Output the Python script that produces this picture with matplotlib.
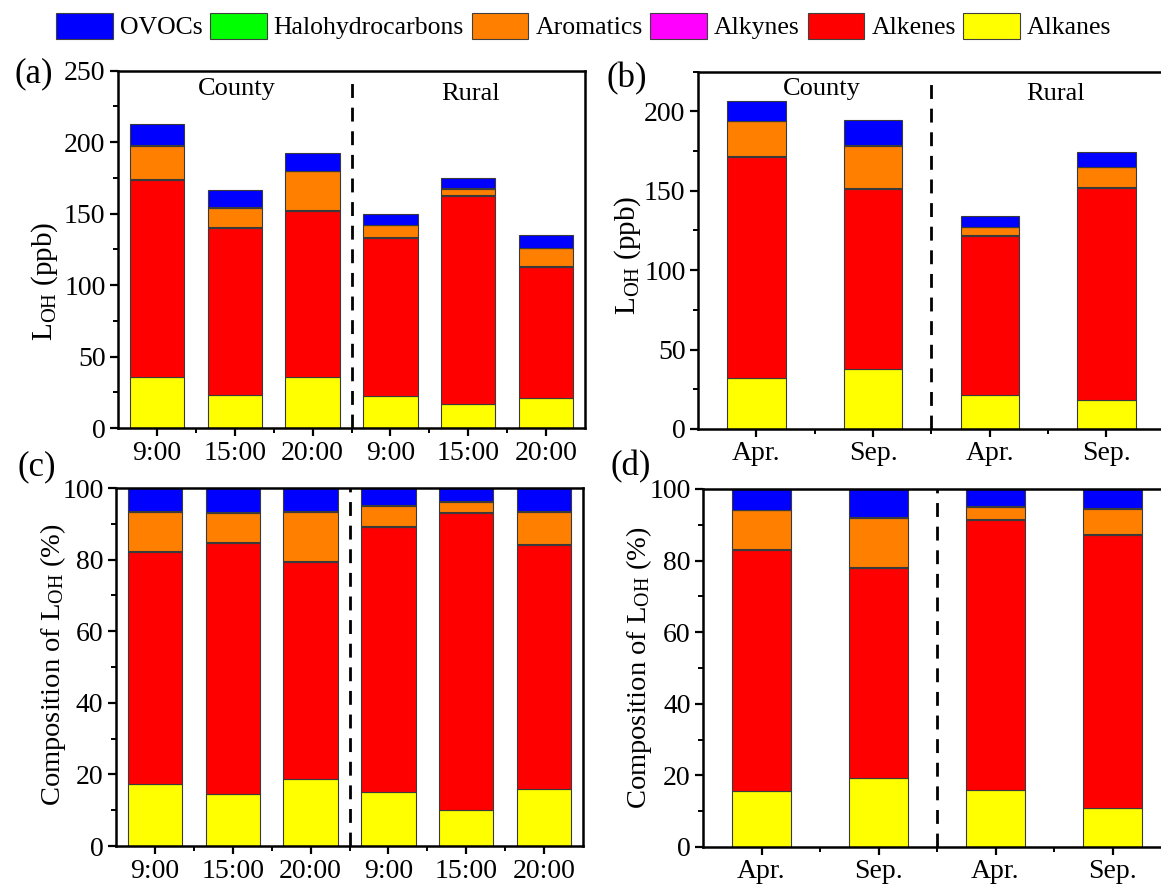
import matplotlib
matplotlib.use("Agg")
import matplotlib.pyplot as plt
from matplotlib.patches import Patch
from matplotlib.ticker import MultipleLocator, FixedLocator
import numpy as np

plt.rcParams['font.family'] = ['Liberation Serif', 'DejaVu Serif']
plt.rcParams['mathtext.fontset'] = 'custom'
plt.rcParams['mathtext.rm'] = 'Liberation Serif'
plt.rcParams['mathtext.it'] = 'Liberation Serif:italic'

# --- data ---
categories = ['Alkanes', 'Alkenes', 'Alkynes', 'Aromatics', 'Halohydrocarbons', 'OVOCs']
colors = ['#FFFF00', '#FF0000', '#FF00FF', '#FF8000', '#00FF00', '#0000FF']

hour_labels = ['9:00', '15:00', '20:00', '9:00', '15:00', '20:00']
month_labels = ['Apr.', 'Sep.', 'Apr.', 'Sep.']

# (a) L_OH by hour, ppb
a_alkanes = [35.9, 23.1, 35.4, 22.1, 16.8, 21.0]
a_alkenes = [137.8, 116.6, 116.7, 111.1, 145.3, 91.9]
a_alkynes = [0.6, 0.6, 0.6, 0.6, 0.6, 0.6]
a_aromatics = [23.1, 13.8, 26.8, 7.9, 4.7, 12.1]
a_halo = [0.3, 0.3, 0.3, 0.3, 0.3, 0.3]
a_ovocs = [14.7, 11.8, 12.7, 7.6, 6.9, 8.8]

# (b) L_OH by month, ppb
b_alkanes = [32.1, 37.5, 21.6, 18.4]
b_alkenes = [139.0, 113.7, 100.2, 133.6]
b_alkynes = [0.6, 0.6, 0.6, 0.6]
b_aromatics = [22.2, 26.6, 4.8, 12.3]
b_halo = [0.3, 0.3, 0.3, 0.3]
b_ovocs = [12.3, 16.1, 6.5, 9.3]

# (c) composition by hour, %
c_alkanes = [17.3, 14.4, 18.8, 15.2, 10.0, 15.8]
c_alkenes = [64.9, 70.1, 60.6, 74.0, 83.0, 68.3]
c_alkynes = [0.3, 0.3, 0.3, 0.3, 0.3, 0.3]
c_aromatics = [10.8, 8.3, 13.7, 5.5, 2.8, 9.0]
c_halo = [0.15, 0.15, 0.15, 0.15, 0.15, 0.15]
c_ovocs = [6.55, 6.75, 6.45, 4.85, 3.75, 6.45]

# (d) composition by month, %
d_alkanes = [15.7, 19.4, 16.0, 10.9]
d_alkenes = [67.2, 58.4, 75.3, 76.3]
d_alkynes = [0.3, 0.3, 0.3, 0.3]
d_aromatics = [10.9, 13.8, 3.5, 7.0]
d_halo = [0.15, 0.15, 0.15, 0.15]
d_ovocs = [5.75, 7.95, 4.75, 5.35]

W, H = 1161, 885
fig = plt.figure(figsize=(W / 100, H / 100), dpi=100)


def px_axes(left, right, top, bottom):
    return fig.add_axes([left / W, 1 - bottom / H, (right - left) / W, (bottom - top) / H])


def stacked(ax, series, labels, width, ylim, ymajor, yminor, split, dash_top):
    x = np.arange(1, len(labels) + 1)
    bottom = np.zeros(len(labels))
    for vals, col in zip(series, colors):
        ax.bar(x, vals, width, bottom=bottom, color=col, edgecolor='#3a3a3a', linewidth=0.8, zorder=2)
        bottom += np.array(vals)
    ax.set_xlim(0.5, len(labels) + 0.5)
    ax.set_ylim(*ylim)
    ax.set_xticks(x)
    ax.set_xticklabels(labels)
    ax.xaxis.set_minor_locator(FixedLocator(x[:-1] + 0.5))
    ax.yaxis.set_major_locator(MultipleLocator(ymajor))
    ax.yaxis.set_minor_locator(MultipleLocator(yminor))
    ax.tick_params(which='major', direction='out', length=6, width=1.6, labelsize=20, pad=3)
    ax.tick_params(which='minor', direction='out', length=3.5, width=1.4)
    for s in ax.spines.values():
        s.set_linewidth(1.8)
    ax.axvline(split, ymin=0, ymax=dash_top, color='black', linewidth=2, dashes=(5, 3.5), zorder=3)


ax_a = px_axes(118, 585, 70.7, 428)
stacked(ax_a, [a_alkanes, a_alkenes, a_alkynes, a_aromatics, a_halo, a_ovocs],
        hour_labels, 0.7, (0, 250), 50, 25, 3.5, 0.97)
ax_a.text(2.03, 237, 'County', ha='center', va='center', fontsize=19)
ax_a.text(5.03, 234, 'Rural', ha='center', va='center', fontsize=19)

ax_b = px_axes(698, 1164.8, 71.7, 429)
stacked(ax_b, [b_alkanes, b_alkenes, b_alkynes, b_aromatics, b_halo, b_ovocs],
        month_labels, 0.5, (0, 225), 50, 25, 2.5, 0.97)
ax_b.text(1.56, 214, 'County', ha='center', va='center', fontsize=19)
ax_b.text(3.56, 211, 'Rural', ha='center', va='center', fontsize=19)

ax_c = px_axes(116, 583, 488, 846)
stacked(ax_c, [c_alkanes, c_alkenes, c_alkynes, c_aromatics, c_halo, c_ovocs],
        hour_labels, 0.7, (0, 100), 20, 10, 3.5, 1.0)

ax_d = px_axes(703, 1171, 489, 847)
stacked(ax_d, [d_alkanes, d_alkenes, d_alkynes, d_aromatics, d_halo, d_ovocs],
        month_labels, 0.5, (0, 100), 20, 10, 2.5, 1.0)

# y labels
ylab_loh = r'L$_{\mathrm{OH}}$ (ppb)'
ylab_comp = r'Composition of L$_{\mathrm{OH}}$ (%)'
fig.text(45 / W, 1 - 281 / H, ylab_loh, rotation=90, ha='center', va='center', fontsize=21)
fig.text(628 / W, 1 - 255 / H, ylab_loh, rotation=90, ha='center', va='center', fontsize=21)
fig.text(53 / W, 1 - 665 / H, ylab_comp, rotation=90, ha='center', va='center', fontsize=20.5)
fig.text(639 / W, 1 - 668 / H, ylab_comp, rotation=90, ha='center', va='center', fontsize=20.5)

# panel letters
for lab, xp, yp in [('(a)', 34, 74), ('(b)', 627, 79), ('(c)', 37, 467), ('(d)', 631, 467)]:
    fig.text(xp / W, 1 - yp / H, lab, ha='center', va='center', fontsize=25)

# legend (reverse stacking order)
handles = [Patch(facecolor=c, edgecolor='#404040', linewidth=0.8, label=l)
           for l, c in zip(categories[::-1], colors[::-1])]
fig.legend(handles=handles, loc='upper left', bbox_to_anchor=(56 / W, 1 - 13 / H), ncol=6,
           frameon=False, fontsize=18.5, handlelength=2.2, handleheight=1.15,
           handletextpad=0.28, columnspacing=0.3, borderpad=0, borderaxespad=0)

fig.savefig('out.png', dpi=100)
